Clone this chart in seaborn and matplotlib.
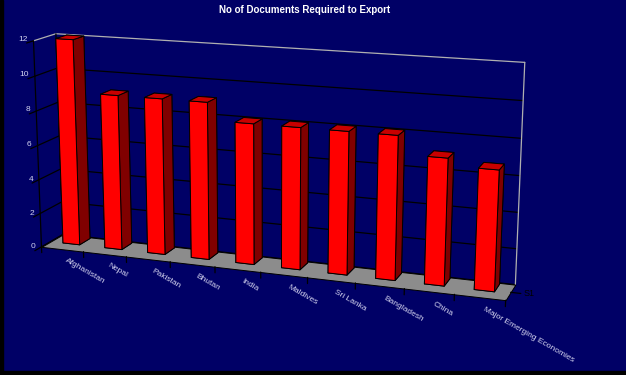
import numpy as np
import matplotlib
matplotlib.use("Agg")
import matplotlib.pyplot as plt
import seaborn as sns
from matplotlib.patches import Rectangle
from mpl_toolkits.mplot3d import proj3d
from mpl_toolkits.mplot3d.art3d import Poly3DCollection

# Number of documents required to export, by economy
countries = ["Afghanistan", "Nepal", "Pakistan", "Bhutan", "India", "Maldives",
             "Sri Lanka", "Bangladesh", "China", "Major Emerging Economies"]
documents = [12, 9, 9, 9, 8, 8, 8, 8, 7, 6.6]
value_ticks = [0, 2, 4, 6, 8, 10, 12]
series_name = "S1"
title = "No of Documents Required to Export"

sns.set_theme(style="white")
plt.rcParams["font.family"] = ["Liberation Sans", "DejaVu Sans"]

NAVY = "#000066"
LABEL = "#d4d4f0"
W, H = 626, 375
fig = plt.figure(figsize=(W / 100, H / 100), dpi=100, facecolor=NAVY)

# square 3D panel, placed so the view centre lands in the middle of the plot area
S = 600
cx, cy = 269, H - 160
left = cx - S * 0.095 / 0.185
bottom = cy - S * 0.095 / 0.185
ax = fig.add_axes([left / W, bottom / H, S / W, S / H], projection="3d",
                  computed_zorder=False)
ax.set_facecolor((0, 0, 0, 0))
ax.patch.set_alpha(0)
ax.set_axis_off()

n = len(countries)
zmax = value_ticks[-1]
depth = 1.0
tick_out = -0.3

# back wall gridlines (y = depth) and side wall gridlines (x = 0)
for z in value_ticks:
    col = "#b0b0b0" if z == zmax else "black"
    ax.plot([0, n], [depth, depth], [z, z], color=col, lw=0.9, zorder=1)
    ax.plot([0, 0], [0, depth], [z, z], color=col, lw=0.9, zorder=1)
    # value-axis tick pointing out of the side wall
    ax.plot([0, 0], [tick_out, 0], [z, z], color="black", lw=0.9, zorder=1)

ax.plot([0, 0], [depth, depth], [0, zmax], color="black", lw=0.9, zorder=1)
ax.plot([0, 0], [0, 0], [0, zmax], color="black", lw=0.9, zorder=1)
ax.plot([n, n], [depth, depth], [0, zmax], color="#b0b0b0", lw=0.9, zorder=1)

# floor
floor = Poly3DCollection([[(0, 0, 0), (n, 0, 0), (n, depth, 0), (0, depth, 0)]],
                         facecolor="#8c8c8c", edgecolor="black", linewidth=0.7,
                         zorder=2)
ax.add_collection3d(floor)

# category ticks along the front edge of the floor
for i in range(n + 1):
    ax.plot([i, i], [0, 0], [0, -0.35], color="black", lw=0.9, zorder=2)

# series-axis tick at the right end of the floor
ax.plot([n, n + 0.2], [depth / 2, depth / 2], [0, 0], color="black", lw=0.9,
        zorder=2)

# bars: faces are ordered bottom, top, front, back, left, right
idx = np.arange(n)
bw = 0.4
face_cols = ["#800000", "#c80000", "#ff0000", "#800000", "#800000", "#800000"] * n
ax.bar3d(idx + 0.5 - bw / 2, np.full(n, 0.42), np.zeros(n), bw, 0.5,
         documents, color=face_cols, shade=False, edgecolor="black",
         linewidth=0.7, zorder=5)

ax.set_xlim(0, n)
ax.set_ylim(0, depth)
ax.set_zlim(0, zmax)
ax.set_box_aspect((0.93, 0.091, 0.414), zoom=0.88)
ax.set_proj_type("persp", focal_length=0.457)
ax.view_init(elev=14, azim=-70)

# fix the projection, then place the axis texts at projected points
fig.canvas.draw()
M = ax.get_proj()
to_figure = fig.transFigure.inverted()


def to_fig(x, y, z, dx=0.0, dy=0.0):
    px, py, _ = proj3d.proj_transform(np.array([x]), np.array([y]),
                                      np.array([z]), M)
    disp = ax.transData.transform((px[0], py[0])) + np.array([dx, dy])
    return to_figure.transform(disp)


for z in value_ticks:
    fx, fy = to_fig(0, tick_out, z, dx=1, dy=4)
    fig.text(fx, fy, f"{z}", ha="right", va="center", fontsize=6, color=LABEL)

for i, name in enumerate(countries):
    fx, fy = to_fig(i + 0.62, 0, -0.45)
    fig.text(fx, fy, name, rotation=-30, rotation_mode="anchor",
             ha="left", va="top", fontsize=6, color=LABEL)

fx, fy = to_fig(n + 0.25, depth / 2, 0)
fig.text(fx, fy, series_name, ha="left", va="center", fontsize=6.5,
         color="black")

fig.text(305 / W, 1 - 10 / H, title, ha="center", va="center",
         fontsize=7, fontweight="bold", color="white")

# frame edges on the left and bottom
fig.add_artist(Rectangle((0, 0), 3 / W, 1, transform=fig.transFigure,
                         color="black", zorder=10))
fig.add_artist(Rectangle((0, 0), 1, 4 / H, transform=fig.transFigure,
                         color="black", zorder=10))

fig.savefig("out.png", dpi=100, facecolor=NAVY)
